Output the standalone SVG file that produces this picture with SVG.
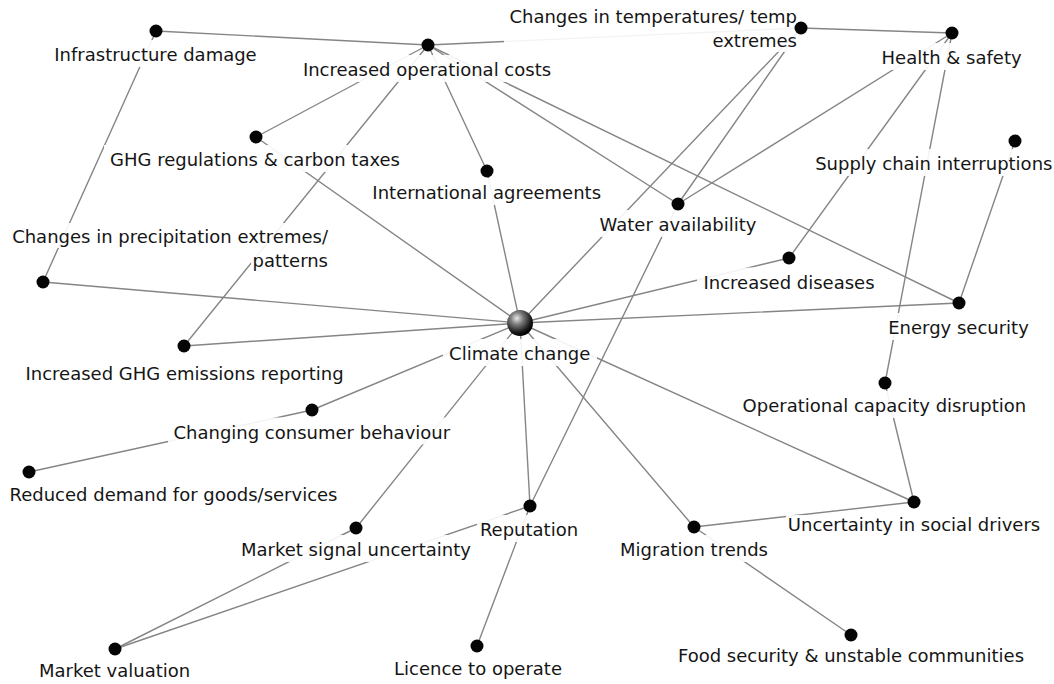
<svg xmlns="http://www.w3.org/2000/svg" width="1054" height="684" viewBox="0 0 1054 684">
<defs>
<style>
.edge{stroke:#858585;stroke-width:1.4;fill:none;stroke-linecap:round}
.dot{fill:#050505}
.bg{fill:#ffffff;fill-opacity:0.9}
.lbl{font-family:"DejaVu Sans",Verdana,sans-serif;font-size:18px;fill:#151515;text-anchor:middle}
.lbl.r{text-anchor:end}
.lbl.l{text-anchor:start}
</style>
<radialGradient id="sphere" cx="0.38" cy="0.32" r="0.7">
<stop offset="0" stop-color="#e8e8e8"/>
<stop offset="0.35" stop-color="#7a7a7a"/>
<stop offset="0.8" stop-color="#151515"/>
<stop offset="1" stop-color="#000000"/>
</radialGradient>
</defs>
<rect width="1054" height="684" fill="#ffffff"/>
<g id="connectors">
<line class="edge" x1="156" y1="31" x2="428" y2="45"/>
<line class="edge" x1="156" y1="31" x2="43" y2="282"/>
<line class="edge" x1="428" y1="45" x2="801" y2="28"/>
<line class="edge" x1="801" y1="28" x2="952" y2="33"/>
<line class="edge" x1="428" y1="45" x2="256" y2="137"/>
<line class="edge" x1="428" y1="45" x2="184" y2="346"/>
<line class="edge" x1="428" y1="45" x2="487" y2="171"/>
<line class="edge" x1="428" y1="45" x2="678" y2="204"/>
<line class="edge" x1="428" y1="45" x2="959" y2="303"/>
<line class="edge" x1="487" y1="171" x2="520" y2="323"/>
<line class="edge" x1="256" y1="137" x2="520" y2="323"/>
<line class="edge" x1="801" y1="28" x2="520" y2="323"/>
<line class="edge" x1="801" y1="28" x2="678" y2="204"/>
<line class="edge" x1="952" y1="33" x2="678" y2="204"/>
<line class="edge" x1="952" y1="33" x2="789" y2="258"/>
<line class="edge" x1="952" y1="33" x2="885" y2="383"/>
<line class="edge" x1="1015" y1="141" x2="959" y2="303"/>
<line class="edge" x1="43" y1="282" x2="520" y2="323"/>
<line class="edge" x1="184" y1="346" x2="520" y2="323"/>
<line class="edge" x1="789" y1="258" x2="520" y2="323"/>
<line class="edge" x1="959" y1="303" x2="520" y2="323"/>
<line class="edge" x1="678" y1="204" x2="530" y2="506"/>
<line class="edge" x1="520" y1="323" x2="914" y2="502"/>
<line class="edge" x1="885" y1="383" x2="914" y2="502"/>
<line class="edge" x1="694" y1="527" x2="914" y2="502"/>
<line class="edge" x1="520" y1="323" x2="694" y2="527"/>
<line class="edge" x1="694" y1="527" x2="851" y2="635"/>
<line class="edge" x1="520" y1="323" x2="530" y2="506"/>
<line class="edge" x1="530" y1="506" x2="477" y2="646"/>
<line class="edge" x1="530" y1="506" x2="115" y2="649"/>
<line class="edge" x1="356" y1="528" x2="115" y2="649"/>
<line class="edge" x1="520" y1="323" x2="356" y2="528"/>
<line class="edge" x1="520" y1="323" x2="312" y2="410"/>
<line class="edge" x1="312" y1="410" x2="29" y2="472"/>
</g>
<g id="node-infrastructure-damage">
<rect class="bg" x="52" y="40" width="208" height="27"/>
<circle class="dot" cx="156" cy="31" r="6.5"/>
<text class="lbl" x="155.5" y="61">Infrastructure damage</text>
</g>
<g id="node-increased-operational-costs">
<rect class="bg" x="298" y="55" width="258" height="27"/>
<circle class="dot" cx="428" cy="45" r="6.5"/>
<text class="lbl" x="427" y="76">Increased operational costs</text>
</g>
<g id="node-changes-in-temperatures">
<rect class="bg" x="504" y="4" width="296" height="48"/>
<circle class="dot" cx="801" cy="28" r="6.5"/>
<text class="lbl r" x="797" y="23">Changes in temperatures/ temp</text>
<text class="lbl r" x="797" y="46.5">extremes</text>
</g>
<g id="node-health-safety">
<rect class="bg" x="879" y="43" width="145" height="27"/>
<circle class="dot" cx="952" cy="33" r="6.5"/>
<text class="lbl" x="951.6" y="64">Health &amp; safety</text>
</g>
<g id="node-ghg-regulations">
<rect class="bg" x="104" y="145" width="302" height="27"/>
<circle class="dot" cx="256" cy="137" r="6.5"/>
<text class="lbl" x="255" y="166">GHG regulations &amp; carbon taxes</text>
</g>
<g id="node-international-agreements">
<rect class="bg" x="370" y="178" width="233" height="27"/>
<circle class="dot" cx="487" cy="171" r="6.5"/>
<text class="lbl" x="486.7" y="199">International agreements</text>
</g>
<g id="node-supply-chain">
<rect class="bg" x="813" y="149" width="241" height="27"/>
<circle class="dot" cx="1015" cy="141" r="6.5"/>
<text class="lbl" x="933.8" y="170">Supply chain interruptions</text>
</g>
<g id="node-water-availability">
<rect class="bg" x="597" y="210" width="162" height="27"/>
<circle class="dot" cx="678" cy="204" r="6.5"/>
<text class="lbl" x="678" y="231">Water availability</text>
</g>
<g id="node-changes-in-precipitation">
<rect class="bg" x="9" y="223" width="322" height="25"/>
<rect class="bg" x="251" y="248" width="80" height="23"/>
<circle class="dot" cx="43" cy="282" r="6.5"/>
<text class="lbl r" x="328" y="243">Changes in precipitation extremes/</text>
<text class="lbl r" x="328" y="266.5">patterns</text>
</g>
<g id="node-increased-diseases">
<rect class="bg" x="697" y="267.5" width="184" height="27"/>
<circle class="dot" cx="789" cy="258" r="6.5"/>
<text class="lbl" x="789" y="288.5">Increased diseases</text>
</g>
<g id="node-climate-change">
<rect class="bg" x="443" y="339" width="154" height="27"/>
<circle cx="520" cy="323" r="13" fill="url(#sphere)"/>
<text class="lbl" x="519.7" y="360">Climate change</text>
</g>
<g id="node-energy-security">
<rect class="bg" x="885" y="313" width="147" height="27"/>
<circle class="dot" cx="959" cy="303" r="6.5"/>
<text class="lbl" x="958.5" y="334">Energy security</text>
</g>
<g id="node-increased-ghg-reporting">
<rect class="bg" x="18" y="358.5" width="334" height="27"/>
<circle class="dot" cx="184" cy="346" r="6.5"/>
<text class="lbl" x="184.6" y="379.5">Increased GHG emissions reporting</text>
</g>
<g id="node-operational-capacity">
<rect class="bg" x="740" y="391" width="289" height="27"/>
<circle class="dot" cx="885" cy="383" r="6.5"/>
<text class="lbl" x="884.4" y="412">Operational capacity disruption</text>
</g>
<g id="node-changing-consumer">
<rect class="bg" x="168" y="417.5" width="289" height="27"/>
<circle class="dot" cx="312" cy="410" r="6.5"/>
<text class="lbl" x="311.8" y="438.5">Changing consumer behaviour</text>
</g>
<g id="node-reduced-demand">
<rect class="bg" x="7" y="480" width="341" height="27"/>
<circle class="dot" cx="29" cy="472" r="6.5"/>
<text class="lbl l" x="9.5" y="501">Reduced demand for goods/services</text>
</g>
<g id="node-uncertainty-social">
<rect class="bg" x="786" y="515" width="256" height="22"/>
<circle class="dot" cx="914" cy="502" r="6.5"/>
<text class="lbl" x="914" y="531">Uncertainty in social drivers</text>
</g>
<g id="node-reputation">
<rect class="bg" x="477" y="515" width="104" height="27"/>
<circle class="dot" cx="530" cy="506" r="6.5"/>
<text class="lbl" x="529" y="536">Reputation</text>
</g>
<g id="node-market-signal">
<rect class="bg" x="239" y="535" width="234" height="27"/>
<circle class="dot" cx="356" cy="528" r="6.5"/>
<text class="lbl" x="356" y="556">Market signal uncertainty</text>
</g>
<g id="node-migration-trends">
<rect class="bg" x="618" y="535" width="152" height="27"/>
<circle class="dot" cx="694" cy="527" r="6.5"/>
<text class="lbl" x="694" y="556">Migration trends</text>
</g>
<g id="node-market-valuation">
<rect class="bg" x="37" y="656" width="155" height="27"/>
<circle class="dot" cx="115" cy="649" r="6.5"/>
<text class="lbl" x="114.6" y="677">Market valuation</text>
</g>
<g id="node-licence">
<rect class="bg" x="391" y="654" width="174" height="27"/>
<circle class="dot" cx="477" cy="646" r="6.5"/>
<text class="lbl" x="478" y="675">Licence to operate</text>
</g>
<g id="node-food-security">
<rect class="bg" x="675" y="641" width="352" height="27"/>
<circle class="dot" cx="851" cy="635" r="6.5"/>
<text class="lbl" x="851" y="662">Food security &amp; unstable communities</text>
</g>
</svg>
